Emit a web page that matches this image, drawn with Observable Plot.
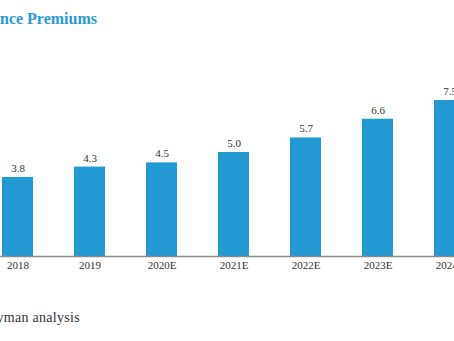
<!DOCTYPE html>
<html>
<head>
<meta charset="utf-8">
<script src="https://cdn.jsdelivr.net/npm/d3@7"></script>
<script src="https://cdn.jsdelivr.net/npm/@observablehq/plot@0.6"></script>
<style>
  html, body { margin: 0; padding: 0; background: #fff; }
  body { width: 454px; height: 341px; overflow: hidden; position: relative; }
  #title { position: absolute; right: 357px; top: 10px; white-space: nowrap;
           font-family: "Liberation Serif", serif; font-weight: bold; font-size: 16px; color: #2a9ad6; }
  #chart { position: absolute; left: -20.4px; top: 40px; width: 508px; }
  #chart svg { max-width: none !important; }
  #chart svg text { font-family: "Liberation Serif", serif !important; }
  #caption { position: absolute; right: 374px; top: 310px; white-space: nowrap;
             font-family: "Liberation Serif", serif; font-size: 14px; letter-spacing: 0.3px; color: #333; }
</style>
</head>
<body>
<div id="title"></div>
<div id="chart"></div>
<div id="caption"></div>
<script>
const title = "Insurance Premiums";
const caption = "Source: Oliver Wyman analysis";
const years = ["2018", "2019", "2020E", "2021E", "2022E", "2023E", "2024E"];
const values = [3.8, 4.3, 4.5, 5.0, 5.7, 6.6, 7.5];

document.getElementById("title").textContent = title;
document.getElementById("caption").textContent = caption;

const data = years.map((y, i) => ({year: y, value: values[i]}));
const barColor = "#2299d2";

const plot = Plot.plot({
  width: 508,
  height: 246,
  marginLeft: 0,
  marginRight: 0,
  marginTop: 49.6,
  marginBottom: 30,
  style: {fontFamily: "'Liberation Serif', serif", fontSize: "11px", color: "#333", background: "transparent", maxWidth: "none"},
  x: {domain: years, paddingInner: 0.566, paddingOuter: 0.283, label: null},
  y: {domain: [0, 8], axis: null},
  marks: [
    Plot.barY(data, {x: "year", y: "value", fill: barColor}),
    Plot.ruleY([0], {stroke: "#8a8a8a", strokeWidth: 1.5}),
    Plot.text(data, {x: "year", y: "value", text: d => d.value.toFixed(1), dy: -9, fill: "#333", fontSize: 11, fontFamily: "Liberation Serif"}),
    Plot.axisX({tickSize: 0, tickPadding: 5, fontSize: 11, label: null, color: "#333", fontFamily: "Liberation Serif"})
  ]
});
document.getElementById("chart").appendChild(plot);
</script>
</body>
</html>
